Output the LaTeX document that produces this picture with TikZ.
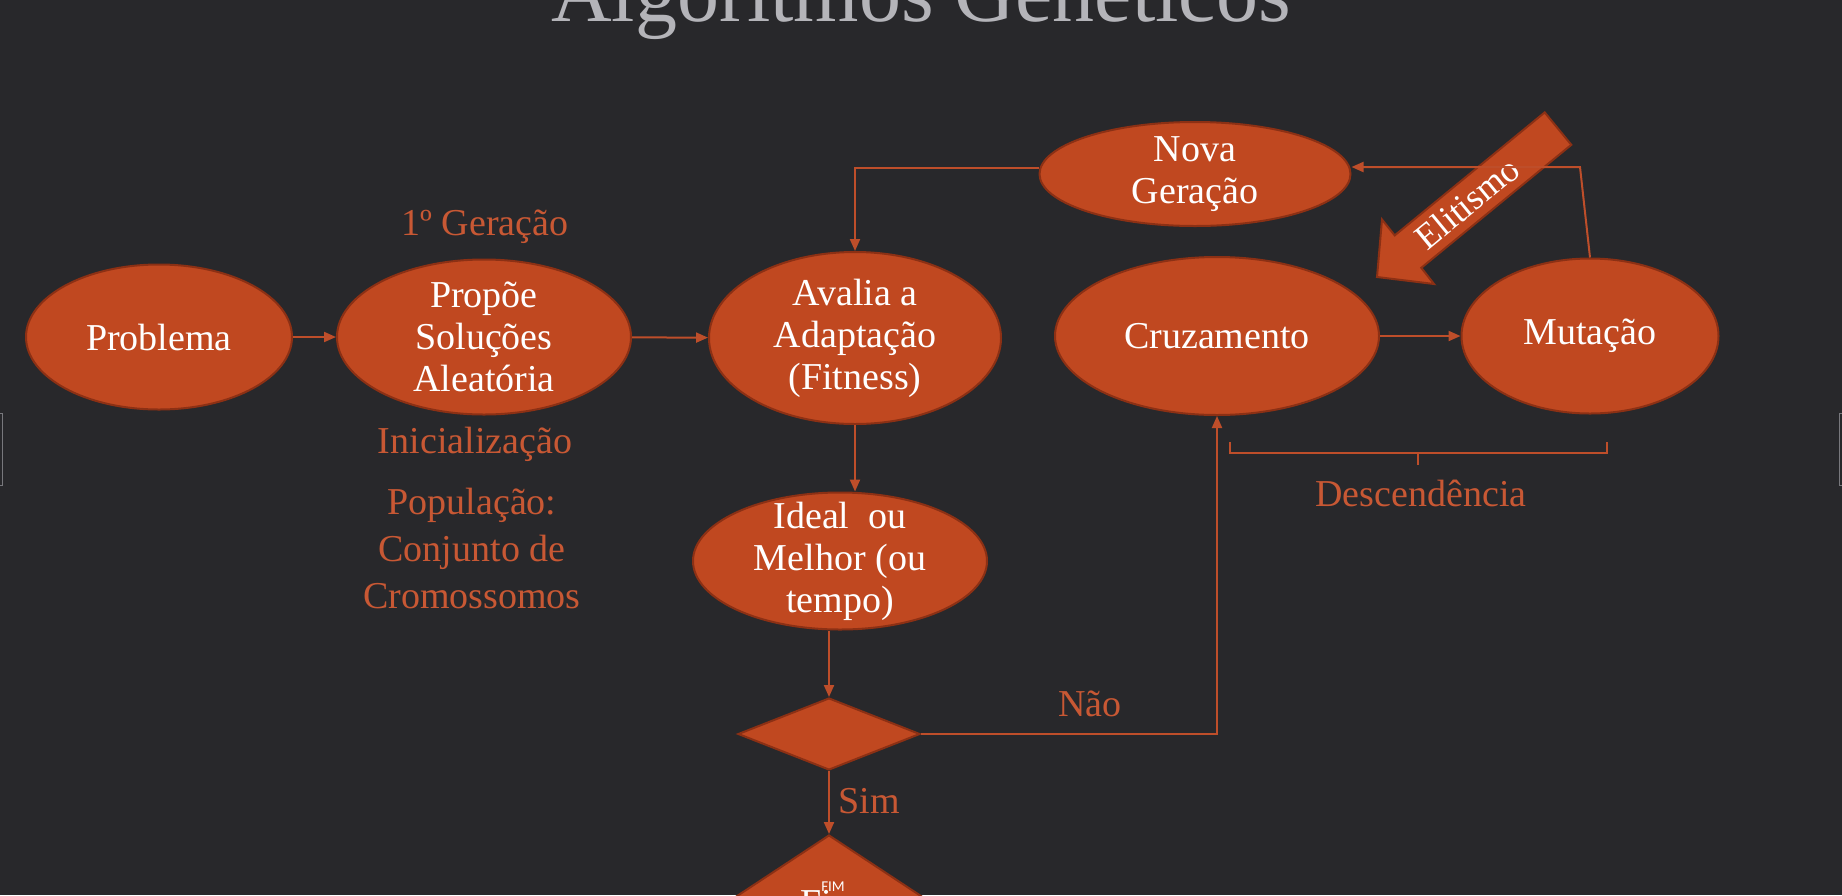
\documentclass[tikz,border=0pt]{standalone}
\usepackage{fontspec}
\setmainfont{Liberation Serif}
\newfontfamily\smallsans{Carlito}
\usetikzlibrary{shapes.geometric,arrows.meta}
\definecolor{bg}{RGB}{40,40,43}
\definecolor{orfill}{RGB}{192,72,32}
\definecolor{ordraw}{RGB}{140,48,20}
\definecolor{orline}{RGB}{190,78,42}
\definecolor{ortext}{RGB}{200,88,52}
\definecolor{titlecol}{RGB}{180,180,185}
\definecolor{edgegray}{RGB}{120,120,125}
\begin{document}
\begin{tikzpicture}[x=1pt,y=-1pt,
  bubble/.style={ellipse, fill=orfill, draw=ordraw, line width=2pt, inner xsep=0pt, inner ysep=-25pt,
    text=white, align=center, font=\fontsize{38}{42}\selectfont},
  lab/.style={text=ortext, align=center, font=\fontsize{38}{47}\selectfont, inner sep=0pt},
  conn/.style={draw=orline, line width=2pt, -{Triangle[length=12pt,width=10pt]}},
  plain/.style={draw=orline, line width=2pt},
  decision/.style={diamond, fill=orfill, draw=ordraw, line width=2pt, inner sep=0pt}]
\fill[bg] (0,0) rectangle (1842,895);
\useasboundingbox (0,0) rectangle (1842,895);
\clip (0,0) rectangle (1842,895);

% title (cut at top)
\node[anchor=base, text=titlecol, font=\fontsize{84}{90}\selectfont, inner sep=0pt] (title) at (921,21) {Algoritmos Genéticos};

% slide edge marks
\draw[edgegray, line width=1pt] (-2,413) rectangle (2,485);
\draw[edgegray, line width=1pt] (1839,413) rectangle (1845,485);

% main nodes
\node[bubble, minimum width=266pt, minimum height=145pt] (prob) at (159,337) {Problema};
\node[bubble, minimum width=294pt, minimum height=155pt] (prop) at (484,337) {Propõe\\Soluções\\Aleatória};
\node[bubble, minimum width=292pt, minimum height=172pt] (aval) at (855,338) {Avalia a\\Adaptação\\(Fitness)};
\node[bubble, minimum width=311pt, minimum height=104pt] (nova) at (1195,174) {Nova\\Geração};
\node[bubble, minimum width=324pt, minimum height=158pt] (cruz) at (1217,336) {Cruzamento};
\node[bubble, minimum width=257pt, minimum height=155pt] (muta) at (1590,336) {Mutação};
\node[bubble, minimum width=294pt, minimum height=137pt] (ideal) at (840,561) {Ideal\ \ ou\\Melhor (ou\\tempo)};
\node[decision, minimum width=182pt, minimum height=72pt] (dec) at (829,734) {};
\node[decision, minimum width=300pt, minimum height=198pt] (fim) at (829,934) {};
\node[anchor=base, text=white, font=\fontsize{38}{42}\selectfont, inner sep=0pt] (fimtxt) at (831,915) {Fim};
\node[text=white, font=\smallsans\fontsize{15}{17}\selectfont, inner sep=0pt] (fimsmall) at (833,887) {FIM};

% Elitismo block arrow
\filldraw[fill=orfill, draw=ordraw, line width=2pt]
  (1544.7,112.4) -- (1571.3,144.8) -- (1421.3,267.8) -- (1434,284) -- (1377,277)
  -- (1382,219.5) -- (1394.7,235.4) -- cycle;
\node[rotate=39.4, text=white, font=\fontsize{36}{40}\selectfont, inner sep=0pt] (elit) at (1467,203) {Elitismo};

% labels
\node[lab, anchor=base] (ger1) at (485,235) {1º Geração};
\node[lab, anchor=base] (inic) at (475,453) {Inicialização};
\node[lab] (pop) at (472,548) {População:\\Conjunto de\\Cromossomos};
\node[lab, anchor=base] (desc) at (1421,506) {Descendência};
\node[lab, anchor=base] (nao) at (1090,716) {Não};
\node[lab, anchor=base] (sim) at (869,813) {Sim};

% connectors
\coordinate (nw) at ([yshift=6pt]nova.west);
\coordinate (ne) at ([yshift=7pt]nova.east);
\coordinate (mc) at (1580,167);
\draw[conn] (prob) -- (prop);
\draw[conn] (prop) -- (aval);
\draw[conn] (nw) -- (aval.north |- nw) -- (aval.north);
\draw[conn] (muta.north) -- (mc) -- (ne);
\draw[conn] (aval.south) -- (aval.south |- ideal.north);
\draw[conn] (ideal.south -| dec.north) -- (dec.north);
\draw[conn] (dec.east) -- (dec.east -| cruz.south) -- (cruz.south);
\draw[conn] (dec.south) -- (fim.north);
\draw[conn] (cruz) -- (muta);

% Descendencia bracket
\coordinate (bl) at (1230,442);
\coordinate (br) at (1607,442);
\coordinate (bm) at (1418,453);
\draw[plain] (bl) -- (bl |- bm) -- (br |- bm) -- (br);
\draw[plain] (bm) -- ++(0,12);
\end{tikzpicture}
\end{document}
